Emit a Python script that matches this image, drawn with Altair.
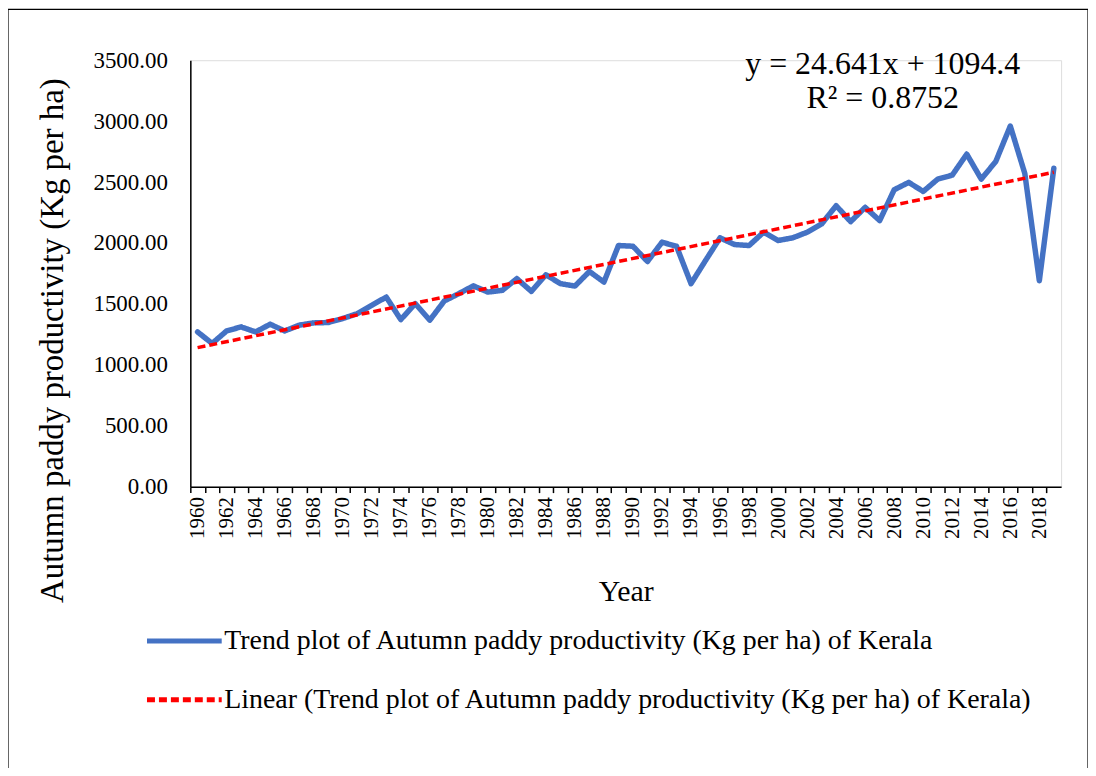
import altair as alt
import pandas as pd

years = list(range(1960, 2020))
productivity = [
    1270, 1175, 1278, 1311, 1270, 1333, 1278, 1325, 1344, 1347,
    1380, 1420, 1488, 1556, 1371, 1502, 1366, 1524, 1584, 1648,
    1597, 1611, 1707, 1603, 1739, 1666, 1646, 1766, 1679, 1979,
    1973, 1848, 2006, 1973, 1666, 1856, 2042, 1987, 1979, 2088,
    2020, 2042, 2088, 2156, 2306, 2175, 2292, 2184, 2437, 2497,
    2423, 2524, 2557, 2729, 2524, 2669, 2960, 2570, 1690, 2614,
]
series_names = [
    "Trend plot of Autumn paddy productivity (Kg per ha) of Kerala",
    "Linear (Trend plot of Autumn paddy productivity (Kg per ha) of Kerala)",
]
series_colors = ["#4472C4", "#FF0000"]
series_dash = [[1, 0], [8, 4]]
y_ticks = [0, 500, 1000, 1500, 2000, 2500, 3000, 3500]
equation_text = ["y = 24.641x + 1094.4", "R² = 0.8752"]

FONT = "Liberation Serif"
W, H = 874, 428
step = W / len(years)

df = pd.DataFrame({"yr": years, "val": productivity})

color_scale = alt.Scale(domain=series_names, range=series_colors)
dash_scale = alt.Scale(domain=series_names, range=series_dash)

legend = alt.Legend(
    title=None, orient="none", legendX=-46, legendY=543,
    symbolType="stroke", symbolSize=5625, symbolStrokeWidth=5,
    labelFont=FONT, labelFontSize=28, labelColor="black", labelLimit=1000,
    rowPadding=5, labelOffset=0,
)

x_enc = alt.X(
    "yr:O",
    scale=alt.Scale(type="point", padding=0.5),
    axis=alt.Axis(
        title="Year", titleFontSize=30, titleFontWeight="normal",
        titleColor="black", titlePadding=38,
        labelFontSize=21, labelColor="black", labelAngle=270,
        labelExpr="datum.value % 2 == 0 ? datum.label : ''", labelOverlap=False,
        labelPadding=4, tickSize=6, tickColor="black", tickWidth=1.5,
        tickOffset=-step / 2, labelOffset=step / 2,
        domainColor="black", domainWidth=1.5, grid=False,
    ),
)
y_enc = alt.Y(
    "val:Q",
    scale=alt.Scale(domain=[0, 3500], nice=False),
    axis=alt.Axis(
        title="Autumn paddy productivity (Kg per ha)", titleFontSize=33,
        titleFontWeight="normal", titleColor="black", titleX=-138, titleY=281,
        titleAngle=270, titleAlign="center", titleBaseline="middle",
        values=y_ticks, format=".2f", labelFontSize=23,
        labelColor="black", labelPadding=23, ticks=False, tickSize=0,
        domainColor="black", domainWidth=1.5, grid=False,
    ),
)

line = alt.Chart(df).transform_calculate(
    series=f"'{series_names[0]}'"
).mark_line(strokeWidth=5.5, strokeCap="round", strokeJoin="round").encode(
    x=x_enc, y=y_enc,
    color=alt.Color("series:N", scale=color_scale, legend=legend),
    strokeDash=alt.StrokeDash("series:N", scale=dash_scale, legend=legend),
)

trend = alt.Chart(df).transform_regression("yr", "val").transform_calculate(
    series=f"'{series_names[1]}'"
).mark_line(strokeWidth=3.5).encode(
    x=x_enc, y=y_enc,
    color=alt.Color("series:N", scale=color_scale, legend=legend),
    strokeDash=alt.StrokeDash("series:N", scale=dash_scale, legend=legend),
)

eq = alt.Chart(pd.DataFrame({"t": [equation_text[0]]})).mark_text(
    font=FONT, fontSize=32, color="black", align="center", baseline="middle"
).encode(x=alt.value(695), y=alt.value(4), text="t:N")
eq2 = alt.Chart(pd.DataFrame({"r": [equation_text[1]]})).mark_text(
    font=FONT, fontSize=32, color="black", align="center", baseline="middle"
).encode(x=alt.value(695), y=alt.value(38), text="r:N")

border = alt.Chart(pd.DataFrame({"a": [0]})).mark_rect(
    fill=None, stroke="black", strokeWidth=1.2, clip=False
).encode(x=alt.value(-183), x2=alt.value(901), y=alt.value(-51), y2=alt.value(760))

chart = alt.layer(border, line, trend, eq, eq2).properties(
    width=W, height=H,
    padding={"left": 183, "top": 51, "right": 27, "bottom": 281},
    autosize=alt.AutoSizeParams(type="none"),
).configure_view(stroke=None).configure(background="white").configure_axis(
    labelFont=FONT, titleFont=FONT
).configure_legend(labelFont=FONT)

chart.save("out.html", embed_options={"renderer": "svg", "actions": False})
